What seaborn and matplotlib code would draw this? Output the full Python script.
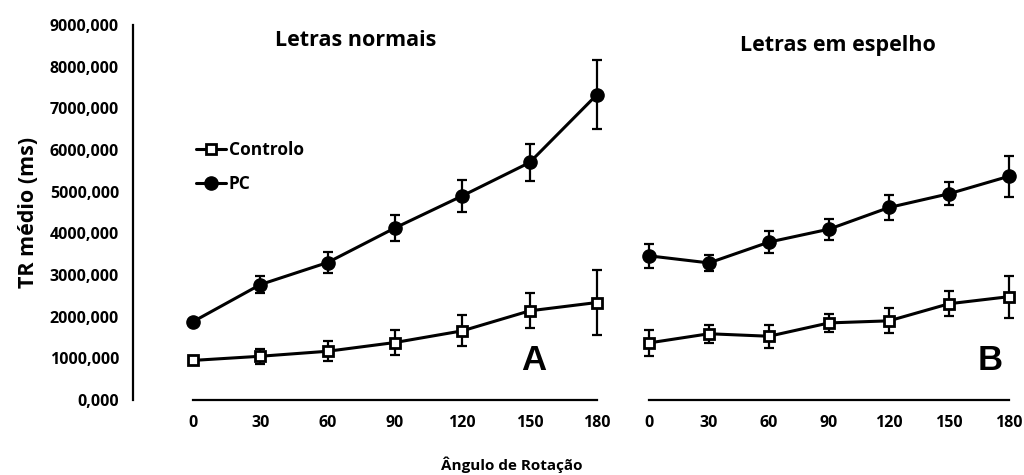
import matplotlib
matplotlib.use("Agg")
import matplotlib.pyplot as plt
import matplotlib.ticker as mticker
from matplotlib.lines import Line2D
import seaborn as sns
import pandas as pd

# Mean reaction times (ms) and standard errors per rotation angle
angles = [0, 30, 60, 90, 120, 150, 180]

normal_controlo = [950, 1050, 1170, 1380, 1660, 2140, 2340]
normal_controlo_err = [80, 180, 240, 300, 370, 420, 780]
normal_pc = [1880, 2770, 3300, 4130, 4900, 5700, 7330]
normal_pc_err = [70, 200, 260, 310, 380, 440, 820]

mirror_controlo = [1370, 1590, 1530, 1850, 1900, 2310, 2480]
mirror_controlo_err = [320, 210, 270, 220, 300, 300, 500]
mirror_pc = [3460, 3290, 3790, 4100, 4620, 4950, 5370]
mirror_pc_err = [280, 190, 270, 250, 300, 280, 490]

panel_titles = ["Letras normais", "Letras em espelho"]
panel_letters = ["A", "B"]
group_names = ["Controlo", "PC"]
y_ticks = [0, 1000, 2000, 3000, 4000, 5000, 6000, 7000, 8000, 9000]

sns.set_style("white")
plt.rcParams["font.family"] = ["Open Sans", "DejaVu Sans"]
plt.rcParams["font.weight"] = "bold"
plt.rcParams["text.color"] = "black"
plt.rcParams["axes.labelcolor"] = "black"
plt.rcParams["xtick.color"] = "black"
plt.rcParams["ytick.color"] = "black"

W, H = 1024, 475
fig = plt.figure(figsize=(W / 100, H / 100), dpi=100)


def px_axes(left, right, top, bottom):
    return fig.add_axes([left / W, 1 - bottom / H, (right - left) / W, (bottom - top) / H])


def fig_xy(x, y):
    return x / W, 1 - y / H


# Left panel: y spine at x=133, angle 0 at x=193, 180 at x=597
sx_l = (597 - 193) / 180
xl_min, xl_max = -(193 - 133) / sx_l, 184
ax_l = px_axes(133, 193 + xl_max * sx_l, 25, 400)
ax_l.set_xlim(xl_min, xl_max)

# Right panel: angle 0 at x=649, 180 at x=1009
sx_r = (1009 - 649) / 180
xr_min, xr_max = -8, 184
ax_r = px_axes(649 + xr_min * sx_r, 649 + xr_max * sx_r, 25, 400)
ax_r.set_xlim(xr_min, xr_max)

panels = [
    (ax_l, normal_controlo, normal_controlo_err, normal_pc, normal_pc_err),
    (ax_r, mirror_controlo, mirror_controlo_err, mirror_pc, mirror_pc_err),
]

styles = {
    "Controlo": dict(marker="s", markersize=7.5, markerfacecolor="white",
                     markeredgecolor="black", markeredgewidth=2.0),
    "PC": dict(marker="o", markersize=9.5, markerfacecolor="black",
               markeredgecolor="black", markeredgewidth=1.0),
}

for ax, c_vals, c_err, p_vals, p_err in panels:
    df = pd.DataFrame({
        "angle": angles * 2,
        "tr": c_vals + p_vals,
        "grupo": ["Controlo"] * len(angles) + ["PC"] * len(angles),
    })
    for name, vals, errs in [("PC", p_vals, p_err), ("Controlo", c_vals, c_err)]:
        ax.errorbar(angles, vals, yerr=errs, fmt="none", ecolor="black",
                    elinewidth=1.6, capsize=3.5, capthick=1.6, zorder=2)
        sns.lineplot(data=df[df["grupo"] == name], x="angle", y="tr", ax=ax,
                     color="black", linewidth=2.2, legend=False, zorder=3,
                     **styles[name])

    ax.set_ylim(0, 9000)
    ax.set_xticks(angles)
    ax.set_xticklabels([str(a) for a in angles], fontweight="bold")
    ax.spines["top"].set_visible(False)
    ax.spines["right"].set_visible(False)
    ax.spines["bottom"].set_bounds(0, 180)
    ax.spines["bottom"].set_linewidth(1.6)
    ax.spines["bottom"].set_color("black")
    ax.tick_params(axis="x", direction="out", length=5, width=1.6, colors="black",
                   pad=6, labelsize=11.5)
    ax.set_xlabel("")
    ax.set_ylabel("")

ax_l.spines["left"].set_linewidth(1.6)
ax_l.spines["left"].set_color("black")
ax_l.set_yticks(y_ticks)
ax_l.yaxis.set_major_formatter(mticker.FuncFormatter(lambda v, _: f"{int(v)},000"))
for lab in ax_l.get_yticklabels():
    lab.set_fontweight("bold")
ax_l.tick_params(axis="y", direction="out", length=5, width=1.6, colors="black",
                 pad=5, labelsize=11.5)
ax_l.set_ylabel("TR médio (ms)", fontsize=15.5, fontweight="bold", labelpad=8)

ax_r.spines["left"].set_visible(False)
ax_r.set_yticks([])

# Panel titles and letters
fig.text(*fig_xy(356, 41), panel_titles[0], ha="center", va="center",
         fontsize=15.5, fontweight="bold")
fig.text(*fig_xy(838, 46), panel_titles[1], ha="center", va="center",
         fontsize=15.5, fontweight="bold")
fig.text(*fig_xy(534, 361), panel_letters[0], ha="center", va="center",
         fontsize=25, fontweight="bold", family="Liberation Sans")
fig.text(*fig_xy(990, 361), panel_letters[1], ha="center", va="center",
         fontsize=25, fontweight="bold", family="Liberation Sans")

fig.text(*fig_xy(512, 465), "Ângulo de Rotação", ha="center", va="center",
         fontsize=11, fontweight="bold")

handles = [
    Line2D([], [], color="black", linewidth=2.2, **styles[n]) for n in group_names
]
fig.legend(handles, group_names, loc="upper left", bbox_to_anchor=fig_xy(196, 141),
           frameon=False, handlelength=1.7, handletextpad=0.2, labelspacing=0.95,
           prop={"weight": "bold", "size": 12.5}, borderaxespad=0, borderpad=0)

fig.savefig("out.png", dpi=100, facecolor="white")
